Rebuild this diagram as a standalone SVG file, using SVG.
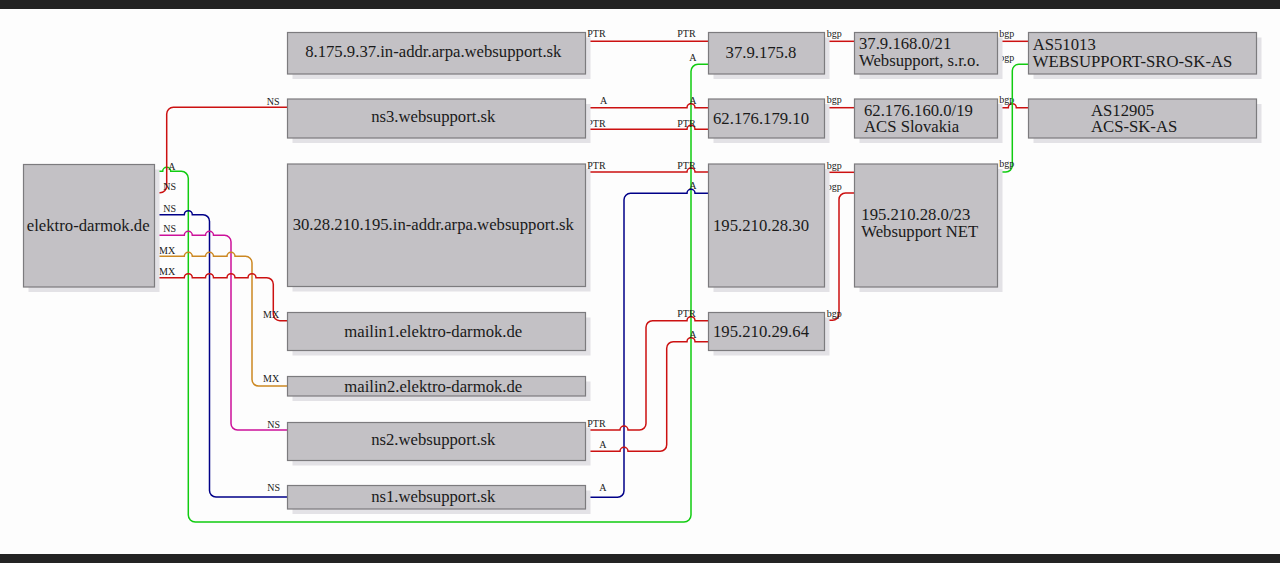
<svg xmlns="http://www.w3.org/2000/svg" width="1280" height="563" viewBox="0 0 1280 563">
<style>
.sh{fill:#e3e2e6;stroke:none}
.bx{fill:#c3c1c5;stroke:#7c7b7e;stroke-width:1.2}
.t{font-family:"Liberation Serif","DejaVu Serif",serif;font-size:16.7px;fill:#1a1a1a}
.m{text-anchor:middle}
.l{font-family:"Liberation Serif","DejaVu Serif",serif;font-size:10px;fill:#1a1a1a}
.e{fill:none;stroke-width:1.5}
.r{stroke:#cc1111}
.g{stroke:#11cc11}
.b{stroke:#000088}
.p{stroke:#cc1199}
.o{stroke:#cc8822}
</style>
<rect x="0" y="0" width="1280" height="563" fill="#fdfdfd"/>
<rect x="0" y="0" width="1280" height="9" fill="#232323"/>
<rect x="0" y="554" width="1280" height="9" fill="#232323"/>

<g id="connectors">
  <g id="e-elektro-37.9.175.8">
    <path class="e g" d="M155,171.3 H162.7 a4,4 0 0 1 8,0 H181.3 a7,7 0 0 1 7,7 V515 a7,7 0 0 0 7,7 H684 a7,7 0 0 0 7,-7 V71.3 a7,7 0 0 1 7,-7 H708.5"/>
    <text class="l" x="168.3" y="170">A</text>
    <text class="l" x="689.3" y="61">A</text>
  </g>
  <g id="e-elektro-ns3">
    <path class="e r" d="M155,192.7 H160 a6.7,6.7 0 0 0 6.7,-6.7 V114 a6.7,6.7 0 0 1 6.7,-6.7 H287.5"/>
    <text class="l" x="163.3" y="190">NS</text>
    <text class="l" x="266.7" y="105">NS</text>
  </g>
  <g id="e-elektro-ns1">
    <path class="e b" d="M155,214.7 H184.3 a4,4 0 0 1 8,0 H203 a6.5,6.5 0 0 1 6.5,6.5 V490.5 a6.5,6.5 0 0 0 6.5,6.5 H287.5"/>
    <text class="l" x="163.3" y="211.7">NS</text>
    <text class="l" x="267.3" y="491">NS</text>
  </g>
  <g id="e-elektro-ns2">
    <path class="e p" d="M155,235.3 H184.3 a4,4 0 0 1 8,0 H205.5 a4,4 0 0 1 8,0 H224.5 a6.5,6.5 0 0 1 6.5,6.5 V423.5 a6.5,6.5 0 0 0 6.5,6.5 H287.5"/>
    <text class="l" x="163.3" y="232.3">NS</text>
    <text class="l" x="267.3" y="427.7">NS</text>
  </g>
  <g id="e-elektro-mailin2">
    <path class="e o" d="M155,256.3 H184.3 a4,4 0 0 1 8,0 H205.5 a4,4 0 0 1 8,0 H227 a4,4 0 0 1 8,0 H245.5 a6.5,6.5 0 0 1 6.5,6.5 V379.5 a6.5,6.5 0 0 0 6.5,6.5 H287.5"/>
    <text class="l" x="159" y="254">MX</text>
    <text class="l" x="263" y="381.7">MX</text>
  </g>
  <g id="e-elektro-mailin1">
    <path class="e r" d="M155,277.7 H184.3 a4,4 0 0 1 8,0 H205.5 a4,4 0 0 1 8,0 H227 a4,4 0 0 1 8,0 H248 a4,4 0 0 1 8,0 H266.8 a6.5,6.5 0 0 1 6.5,6.5 V314.2 a6.5,6.5 0 0 0 6.5,6.5 H287.5"/>
    <text class="l" x="159" y="275.3">MX</text>
    <text class="l" x="263" y="317.7">MX</text>
  </g>
  <g id="e-ptr8-37.9.175.8">
    <path class="e r" d="M585.5,41.3 H708.5"/>
    <text class="l" x="587.3" y="37.3">PTR</text>
    <text class="l" x="677.3" y="37.3">PTR</text>
  </g>
  <g id="e-ns3-62.176.179.10-a">
    <path class="e r" d="M585.5,107.7 H687 a4,4 0 0 1 8,0 H708.5"/>
    <text class="l" x="600" y="104.3">A</text>
    <text class="l" x="689.3" y="104.3">A</text>
  </g>
  <g id="e-ns3-62.176.179.10-ptr">
    <path class="e r" d="M585.5,129.3 H687 a4,4 0 0 1 8,0 H708.5"/>
    <text class="l" x="587.3" y="126.7">PTR</text>
    <text class="l" x="677.3" y="126.7">PTR</text>
  </g>
  <g id="e-ptr30-195.210.28.30">
    <path class="e r" d="M585.5,172 H687 a4,4 0 0 1 8,0 H708.5"/>
    <text class="l" x="587.3" y="169">PTR</text>
    <text class="l" x="677.3" y="169">PTR</text>
  </g>
  <g id="e-ns1-195.210.28.30">
    <path class="e b" d="M585.5,497.3 H617.5 a6.5,6.5 0 0 0 6.5,-6.5 V199.8 a6.5,6.5 0 0 1 6.5,-6.5 H687 a4,4 0 0 1 8,0 H708.5"/>
    <text class="l" x="599.3" y="491">A</text>
    <text class="l" x="689.3" y="189.3">A</text>
  </g>
  <g id="e-ns2-195.210.29.64-ptr">
    <path class="e r" d="M585.5,430 H620 a4,4 0 0 1 8,0 H639.5 a6.5,6.5 0 0 0 6.5,-6.5 V327.2 a6.5,6.5 0 0 1 6.5,-6.5 H687 a4,4 0 0 1 8,0 H708.5"/>
    <text class="l" x="587.3" y="426.7">PTR</text>
    <text class="l" x="677.3" y="317.3">PTR</text>
  </g>
  <g id="e-ns2-195.210.29.64-a">
    <path class="e r" d="M585.5,451.3 H620 a4,4 0 0 1 8,0 H660.2 a6.5,6.5 0 0 0 6.5,-6.5 V348.2 a6.5,6.5 0 0 1 6.5,-6.5 H687 a4,4 0 0 1 8,0 H708.5"/>
    <text class="l" x="599.3" y="448.3">A</text>
    <text class="l" x="689.3" y="338.3">A</text>
  </g>
  <g id="e-bgp1">
    <path class="e r" d="M824.5,41.3 H854.5"/>
    <text class="l" x="826.7" y="37">bgp</text>
  </g>
  <g id="e-bgp2">
    <path class="e r" d="M824.5,107.7 H854.5"/>
    <text class="l" x="826.7" y="103.3">bgp</text>
  </g>
  <g id="e-bgp3">
    <path class="e r" d="M824.5,172.3 H854.5"/>
    <text class="l" x="826.7" y="169">bgp</text>
  </g>
  <g id="e-bgp4">
    <path class="e r" d="M824.5,320.3 H832.5 a6.5,6.5 0 0 0 6.5,-6.5 V199.5 a6.5,6.5 0 0 1 6.5,-6.5 H854.5"/>
    <text class="l" x="826.7" y="316.7">bgp</text>
    <text class="l" x="826.7" y="190">bgp</text>
  </g>
  <g id="e-bgp5">
    <path class="e r" d="M997.5,41.3 H1028.5"/>
    <text class="l" x="999.3" y="37">bgp</text>
  </g>
  <g id="e-bgp6">
    <path class="e r" d="M997.5,107.7 H1008.3 a4,4 0 0 1 8,0 H1028.5"/>
    <text class="l" x="999.3" y="103.3">bgp</text>
  </g>
  <g id="e-bgp7">
    <path class="e g" d="M997.5,172 H1005.8 a6.5,6.5 0 0 0 6.5,-6.5 V70.8 a6.5,6.5 0 0 1 6.5,-6.5 H1028.5"/>
    <text class="l" x="999.3" y="167.3">bgp</text>
    <text class="l" x="999.3" y="60.7">bgp</text>
  </g>
</g>

<g id="n-elektro">
  <rect class="sh" x="28.5" y="169.5" width="131" height="122.5"/>
  <rect class="bx" x="23.5" y="164.5" width="131" height="122.5"/>
  <text class="t m" x="88.2" y="230.5">elektro-darmok.de</text>
</g>
<g id="n-ptr8">
  <rect class="sh" x="292.5" y="37.5" width="298" height="41.5"/>
  <rect class="bx" x="287.5" y="32.5" width="298" height="41.5"/>
  <text class="t m" x="433.3" y="57.3">8.175.9.37.in-addr.arpa.websupport.sk</text>
</g>
<g id="n-ns3">
  <rect class="sh" x="292.5" y="104" width="298" height="39"/>
  <rect class="bx" x="287.5" y="99" width="298" height="39"/>
  <text class="t m" x="433.3" y="122.3">ns3.websupport.sk</text>
</g>
<g id="n-ptr30">
  <rect class="sh" x="292.5" y="169" width="298" height="122.5"/>
  <rect class="bx" x="287.5" y="164" width="298" height="122.5"/>
  <text class="t m" x="433.3" y="230">30.28.210.195.in-addr.arpa.websupport.sk</text>
</g>
<g id="n-mailin1">
  <rect class="sh" x="292.5" y="317.5" width="298" height="38"/>
  <rect class="bx" x="287.5" y="312.5" width="298" height="38"/>
  <text class="t m" x="433.3" y="336.7">mailin1.elektro-darmok.de</text>
</g>
<g id="n-mailin2">
  <rect class="sh" x="292.5" y="381.5" width="298" height="19.5"/>
  <rect class="bx" x="287.5" y="376.5" width="298" height="19.5"/>
  <text class="t m" x="433.3" y="391.7">mailin2.elektro-darmok.de</text>
</g>
<g id="n-ns2">
  <rect class="sh" x="292.5" y="427.5" width="298" height="38"/>
  <rect class="bx" x="287.5" y="422.5" width="298" height="38"/>
  <text class="t m" x="433.3" y="445">ns2.websupport.sk</text>
</g>
<g id="n-ns1">
  <rect class="sh" x="292.5" y="490.5" width="298" height="23.5"/>
  <rect class="bx" x="287.5" y="485.5" width="298" height="23.5"/>
  <text class="t m" x="433.3" y="502">ns1.websupport.sk</text>
</g>
<g id="n-37.9.175.8">
  <rect class="sh" x="713.5" y="37.5" width="116" height="41.5"/>
  <rect class="bx" x="708.5" y="32.5" width="116" height="41.5"/>
  <text class="t m" x="761" y="58.3">37.9.175.8</text>
</g>
<g id="n-62.176.179.10">
  <rect class="sh" x="713.5" y="104" width="116" height="39"/>
  <rect class="bx" x="708.5" y="99" width="116" height="39"/>
  <text class="t m" x="761" y="124">62.176.179.10</text>
</g>
<g id="n-195.210.28.30">
  <rect class="sh" x="713.5" y="169" width="116" height="123"/>
  <rect class="bx" x="708.5" y="164" width="116" height="123"/>
  <text class="t m" x="761" y="231">195.210.28.30</text>
</g>
<g id="n-195.210.29.64">
  <rect class="sh" x="713.5" y="317.5" width="116" height="38"/>
  <rect class="bx" x="708.5" y="312.5" width="116" height="38"/>
  <text class="t m" x="761" y="336.7">195.210.29.64</text>
</g>
<g id="n-37.9.168.0">
  <rect class="sh" x="859.5" y="37.5" width="143" height="41.5"/>
  <rect class="bx" x="854.5" y="32.5" width="143" height="41.5"/>
  <text class="t" x="859" y="49">37.9.168.0/21</text>
  <text class="t" x="859" y="65.7">Websupport, s.r.o.</text>
</g>
<g id="n-62.176.160.0">
  <rect class="sh" x="859.5" y="104" width="143" height="39"/>
  <rect class="bx" x="854.5" y="99" width="143" height="39"/>
  <text class="t" x="864" y="115.7">62.176.160.0/19</text>
  <text class="t" x="864" y="132.3">ACS Slovakia</text>
</g>
<g id="n-195.210.28.0">
  <rect class="sh" x="859.5" y="169" width="143" height="123"/>
  <rect class="bx" x="854.5" y="164" width="143" height="123"/>
  <text class="t" x="861.3" y="220">195.210.28.0/23</text>
  <text class="t" x="861.3" y="237.3">Websupport NET</text>
</g>
<g id="n-AS51013">
  <rect class="sh" x="1033.5" y="37.5" width="228" height="41.5"/>
  <rect class="bx" x="1028.5" y="32.5" width="228" height="41.5"/>
  <text class="t" x="1032.7" y="49.7">AS51013</text>
  <text class="t" x="1032.7" y="66.7">WEBSUPPORT-SRO-SK-AS</text>
</g>
<g id="n-AS12905">
  <rect class="sh" x="1033.5" y="104" width="228" height="39"/>
  <rect class="bx" x="1028.5" y="99" width="228" height="39"/>
  <text class="t" x="1091" y="115.7">AS12905</text>
  <text class="t" x="1091" y="132.3">ACS-SK-AS</text>
</g>
</svg>
